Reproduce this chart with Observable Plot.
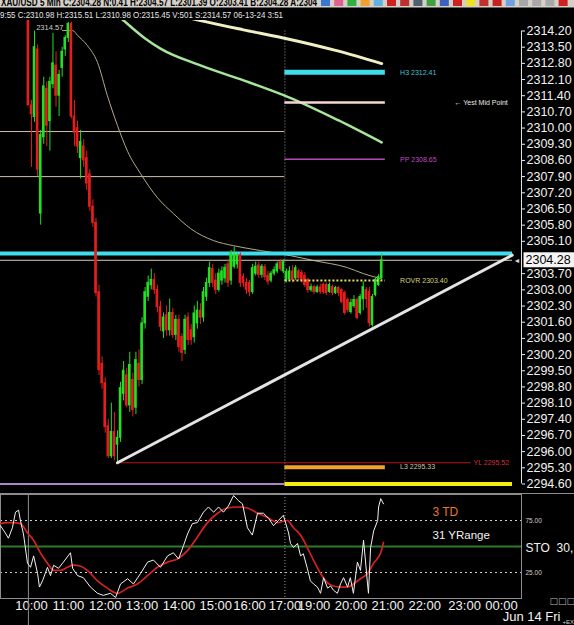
<!DOCTYPE html>
<html>
<head>
<meta charset="utf-8">
<script src="https://cdn.jsdelivr.net/npm/d3@7"></script>
<script src="https://cdn.jsdelivr.net/npm/@observablehq/plot@0.6"></script>
<style>
  html,body{margin:0;padding:0;background:#000;}
  #root{position:relative;width:574px;height:625px;background:#000;overflow:hidden;}
  #root svg{position:absolute;left:0;}
</style>
</head>
<body>
<div id="root"></div>
<script>
// ================= DATA =================
const symbolLine = "XAU/USD 5 Min C:2304.28 N:0.41 H:2304.57 L:2301.39 O:2303.41 B:2304.28 A:2304";
const cursorLine = "9:55 C:2310.98 H:2315.51 L:2310.98 O:2315.45 V:501 S:2314.57 06-13-24 3:51";

// 5-minute candles, bar 0 = 09:55
const opens = [2315.45,2310.98,2310.48,2313.40,2306.30,2309.60,2311.70,2310.30,2311.90,2312.70,
2311.40,2312.60,2313.40,2313.90,2314.50,2310.50,2310.00,2308.70,2309.20,2308.70,
2308.00,2306.60,2305.90,2302.90,2299.80,2298.96,2297.10,2295.80,2296.85,2296.30,
2296.60,2298.50,2299.30,2298.00,2299.10,2297.90,2299.80,2299.10,2301.55,2302.70,
2303.20,2303.43,2303.00,2302.25,2301.20,2301.90,2301.25,2302.00,2301.05,2301.70,
2300.96,2300.40,2301.80,2301.25,2300.95,2301.55,2302.10,2301.80,2302.70,2303.30,
2303.90,2303.40,2303.00,2303.40,2303.50,2304.10,2303.40,2304.00,2304.10,2304.50,
2303.55,2303.30,2303.30,2302.90,2303.70,2304.05,2303.65,2303.98,2303.60,2303.40,
2303.70,2303.80,2304.20,2303.80,
2303.41,2303.45,2303.80,2303.50,2303.80,2303.73,2303.60,2303.43,2302.99,2303.12,
2302.91,2303.10,2303.21,2303.21,2302.91,2303.12,2302.86,2303.08,2302.99,2302.86,
2302.56,2302.04,2302.30,2302.56,2302.00,2302.60,2302.99,2302.90,2301.48,2302.78,
2303.21,2303.51];
const highs = [2315.51,2311.20,2314.20,2313.60,2309.90,2312.20,2312.00,2312.20,2314.10,2313.30,
2312.50,2313.50,2314.00,2314.57,2314.57,2311.20,2310.30,2309.90,2309.50,2309.00,
2308.20,2306.90,2306.10,2303.20,2300.10,2299.20,2297.40,2298.10,2297.70,2296.90,
2299.00,2299.90,2299.60,2300.30,2299.40,2300.30,2300.40,2301.80,2303.10,2303.60,
2303.90,2303.70,2303.20,2302.50,2302.00,2302.30,2302.60,2302.20,2301.90,2301.90,
2301.10,2301.90,2302.00,2301.50,2302.30,2302.50,2302.40,2303.10,2303.50,2304.20,
2304.10,2303.70,2303.90,2304.00,2304.10,2304.30,2304.70,2304.85,2304.60,2304.60,
2303.70,2303.50,2303.40,2304.10,2304.20,2304.20,2304.10,2304.10,2303.80,2303.80,
2304.00,2304.20,2304.30,2304.30,
2303.90,2304.00,2304.05,2304.05,2303.90,2303.85,2303.75,2303.50,2303.25,2303.20,
2303.20,2303.25,2303.30,2303.30,2303.30,2303.20,2303.15,2303.15,2303.05,2302.95,
2302.65,2302.60,2302.75,2302.65,2302.80,2303.35,2303.10,2303.10,2302.80,2303.50,
2303.65,2304.57];
const lows = [2310.98,2308.30,2310.25,2307.90,2305.80,2309.30,2309.20,2309.00,2311.70,2310.90,
2310.50,2312.20,2313.10,2313.70,2310.40,2309.20,2308.90,2307.80,2308.30,2307.30,
2306.40,2305.70,2302.70,2299.30,2298.70,2296.80,2295.70,2295.70,2295.60,2295.52,
2296.40,2298.20,2297.90,2297.70,2297.50,2297.60,2298.80,2298.90,2301.30,2302.50,
2303.00,2302.80,2302.00,2301.20,2300.90,2301.00,2301.00,2300.90,2300.80,2300.30,
2299.90,2300.20,2300.60,2300.60,2300.70,2301.30,2301.50,2301.60,2302.50,2303.10,
2303.10,2302.80,2302.90,2303.20,2303.30,2303.10,2303.20,2303.90,2303.90,2303.10,
2303.10,2302.80,2302.70,2302.80,2303.60,2303.50,2303.50,2303.40,2303.20,2303.30,
2303.60,2303.70,2303.80,2303.70,
2303.30,2303.35,2303.30,2303.40,2303.40,2303.30,2303.10,2302.85,2302.90,2302.80,
2302.85,2302.80,2302.80,2302.75,2302.85,2302.75,2302.80,2302.70,2302.40,2301.90,
2302.00,2301.95,2302.20,2301.70,2301.90,2302.10,2302.20,2301.39,2301.40,2302.70,
2303.15,2303.40];
const closes = [2310.98,2310.60,2313.50,2308.20,2309.70,2311.80,2310.10,2312.00,2312.80,2311.40,
2312.30,2313.30,2313.90,2314.50,2310.50,2309.80,2309.20,2309.40,2308.60,2307.60,
2306.60,2305.90,2302.86,2299.53,2298.96,2297.06,2295.80,2296.85,2295.80,2296.60,
2298.75,2299.50,2298.00,2299.75,2297.80,2299.96,2299.10,2301.55,2302.90,2303.30,
2303.43,2303.00,2302.25,2301.40,2301.80,2301.25,2302.00,2301.05,2301.70,2300.53,
2300.27,2301.70,2300.83,2300.83,2301.98,2302.10,2301.80,2302.90,2303.30,2303.94,
2303.30,2303.00,2303.70,2303.80,2303.95,2303.30,2304.60,2304.50,2304.50,2303.30,
2303.30,2303.00,2302.90,2303.94,2304.00,2303.65,2304.00,2303.55,2303.35,2303.70,
2303.85,2304.10,2303.90,2304.20,
2303.77,2303.80,2303.43,2303.94,2303.51,2303.43,2303.21,2302.99,2303.12,2302.91,
2303.10,2302.91,2302.91,2302.86,2303.21,2302.86,2303.08,2302.86,2302.47,2302.00,
2302.13,2302.43,2302.56,2301.78,2302.69,2303.12,2302.60,2301.56,2302.69,2303.43,
2303.56,2304.28];

// right price axis tick labels
const yTicks = [2314.20,2313.50,2312.80,2312.10,2311.40,2310.70,2310.00,2309.30,2308.60,2307.90,
2307.20,2306.50,2305.80,2305.10,2303.70,2303.00,2302.30,2301.60,2300.90,2300.20,
2299.50,2298.80,2298.10,2297.40,2296.70,2296.00,2295.30,2294.60];
const lastPrice = 2304.28;

// time axis (bar positions of hour labels)
const xTickBars = [1,13,25,37,49,61,72,83.5,93,105,117,129,142,154];
const xTickLabels = ["10:00","11:00","12:00","13:00","14:00","15:00","16:00","17:00","19:00","20:00","21:00","22:00","23:00","00:00"];
const dateLabel = "Jun 14 Fri";

// levels
const sessionHigh = 2304.57;
const H3 = 2312.41, yestMid = 2311.11, PP = 2308.65, ROVR = 2303.40, L3 = 2295.33, YL = 2295.52;
const prevDayLevels = [2309.85, 2307.90];
const floorLevel = 2294.60;
const zigzagBar = 13, zigzagHigh = 2314.57;

// moving averages (bar, value)
const creamBars = [50,56,70,83,100,115];
const creamVals = [2314.84,2314.65,2314.25,2313.90,2313.36,2312.79];
const greenBars = [29,31,38,43,56,72,85,101,115];
const greenVals = [2314.87,2314.65,2313.88,2313.44,2312.71,2311.97,2311.32,2310.33,2309.38];
const tanBars = [11.1,14.4,16.0,19.2,22.5,25.7,29.0,32.3,36.5,42.0,47.2,52.8,60.3,66.8,75.6,85.3,92.8,103.9,109.1,114.6];
const tanVals = [2314.22,2314.22,2314.01,2313.57,2312.84,2311.41,2310.11,2308.99,2308.03,2306.99,2306.30,2305.65,2305.13,2304.91,2304.70,2304.48,2304.27,2303.96,2303.70,2303.49];

// trendline (bar, price)
const trendBars = [29, 157.5];
const trendVals = [2295.52, 2304.50];

// stochastic %K and %D (bar, value)
const kBars = [-9.1,-7.5,-6.5,-5.2,-4.2,-3.2,-2.6,-1.6,-0.3,0.7,1.7,3.0,3.6,4.6,6.2,7.2,8.2,9.8,11.4,13.7,
14.4,16.0,17.9,20.2,22.5,24.4,26.7,28.4,30.0,32.3,34.2,36.5,38.8,40.7,43.0,45.3,47.2,48.9,50.5,51.8,
53.4,55.0,57.0,58.6,60.3,61.9,63.5,65.1,66.8,68.4,69.7,71.3,72.9,74.6,76.5,78.2,79.8,81.4,83.0,84.7,
85.3,86.3,87.6,88.6,89.5,90.8,91.8,92.8,94.1,95.1,96.1,97.4,98.4,99.3,100.6,101.6,102.6,103.9,104.8,105.8,
107.1,108.1,109.1,109.7,110.4,110.7,111.4,112.4,113.7,114.0,114.7,115.6];
const kVals = [70,63,58,68,83,85,75,62,34,30,41,24,11,17,30,22,32,29,35,44,
29,22,20,11,5,3,5,1,14,19,14,24,35,37,30,41,44,38,51,62,
72,73,83,88,83,88,83,89,99,94,91,68,61,82,82,77,70,75,80,63,
53,49,53,41,43,29,17,14,11,5,20,10,12,8,5,14,20,11,20,5,
35,27,56,37,14,5,49,65,75,88,96,91];
const dBars = [-9.1,-6.8,-4.9,-2.6,-0.3,1.7,3.9,6.2,8.2,10.4,12.7,14.7,17.0,19.2,22.5,25.7,29.0,32.3,35.5,38.8,
42.0,45.3,48.5,51.8,55.0,58.3,61.6,64.8,68.1,71.3,74.6,77.8,81.1,84.3,86.3,88.6,90.8,92.8,95.1,97.4,
99.3,101.6,103.9,105.8,108.1,110.4,112.4,114.7,115.6];
const dVals = [72,73,73,72,63,56,44,34,27,27,30,32,31,27,17,10,5,10,14,22,
30,35,38,46,59,73,82,87,88,87,82,78,73,75,68,61,49,37,24,15,
12,11,11,14,19,24,34,44,54];
const stoLevels = [75, 25];
const stoLabel = "STO  30,";
const tdLabel = "3 TD", rangeLabel = "31 YRange";

// ================= LAYOUT CONSTANTS (bar units) =================
const xDomain = [-9.08, 160.52];
const yDomain = [2294.60, 2314.20];
const sessionBreak = 83.5;   // between the two sessions
const levelEnd = 116.2;      // end of today's pivot segments
const labelCol = 121;        // pivot label column
const midLabelCol = 138.7;
const ylLabelCol = 144.9;
const extEnd = 157.6;
const cursorBar = 0;

const FONT = "Liberation Sans, Arial, sans-serif";
const root = document.getElementById("root");

// ================= HEADER =================
const header = d3.select(root).append("svg").attr("width", 574).attr("height", 20).style("top", "0px");
header.append("rect").attr("width", 574).attr("height", 7.5).attr("fill", "#d4d0c8");
header.append("text").attr("x", 1).attr("y", 5.5).attr("font-family", FONT).attr("font-weight", "bold")
  .attr("font-size", 11).attr("fill", "#000").attr("textLength", 316).attr("lengthAdjust", "spacingAndGlyphs").text(symbolLine);
const iconColors = ["#3a78d0","#e06090","#30b040","#f0a030","#60b0e0","#d02020","#c03030","#506070","#40a040","#4060c0","#d02020","#f0e020","#c03030","#c82020","#70a0e0","#a8a8a8","#a8a8a8","#a8a8a8","#d02020"];
header.selectAll("rect.ic").data(iconColors).join("rect").attr("class", "ic")
  .attr("x", (d, k) => 321 + k * 13.2).attr("y", 0).attr("width", 9).attr("height", 6).attr("fill", d => d);
header.append("text").attr("x", 0).attr("y", 17.5).attr("font-family", FONT).attr("font-size", 9.5)
  .attr("fill", "#e6e6e6").attr("textLength", 283).attr("lengthAdjust", "spacingAndGlyphs").text(cursorLine);

// ================= MAIN PRICE PANEL =================
const bars = opens.map((o, i) => ({i, o, h: highs[i], l: lows[i], c: closes[i]}));
const pts = (xs, ys) => xs.map((x, k) => ({x, y: ys[k]}));
const candleColor = d => d.c >= d.o ? "#22e022" : "#e81c1c";

const main = Plot.plot({
  width: 574, height: 470,
  marginLeft: 0, marginRight: 53, marginTop: 10.5, marginBottom: 6.5,
  x: {domain: xDomain, axis: null},
  y: {domain: yDomain, axis: "right", ticks: yTicks, tickFormat: d => d.toFixed(2), tickSize: 3, tickPadding: 2, label: null},
  style: {background: "#000", color: "#f2f2f2", fontFamily: FONT, fontSize: "12.5px", overflow: "hidden"},
  marks: [
    Plot.ruleY(prevDayLevels, {x1: xDomain[0], x2: sessionBreak, stroke: "#cdc2a6", strokeWidth: 1}),
    Plot.ruleY([floorLevel], {x1: xDomain[0], x2: sessionBreak, stroke: "#a884c8", strokeWidth: 2}),
    Plot.ruleX([sessionBreak], {stroke: "#a0a0a0", strokeDasharray: "1,2"}),
    Plot.line(pts(creamBars, creamVals), {x: "x", y: "y", stroke: "#f2efc4", strokeWidth: 3, curve: "monotone-x"}),
    Plot.line(pts(greenBars, greenVals), {x: "x", y: "y", stroke: "#a6e69a", strokeWidth: 2.5, curve: "monotone-x"}),
    Plot.line(pts(tanBars, tanVals), {x: "x", y: "y", stroke: "#b4aa8c", strokeWidth: 1, curve: "monotone-x"}),
    Plot.ruleY([sessionHigh], {x1: xDomain[0], x2: extEnd, stroke: "#3fdcec", strokeWidth: 4}),
    Plot.ruleY([lastPrice], {x1: xDomain[0], x2: extEnd, stroke: "#d6ccb4", strokeWidth: 1}),
    Plot.ruleY([H3], {x1: sessionBreak, x2: levelEnd, stroke: "#3fdcec", strokeWidth: 5}),
    Plot.ruleY([yestMid], {x1: sessionBreak, x2: levelEnd, stroke: "#f6d6d2", strokeWidth: 2.5}),
    Plot.ruleY([PP], {x1: sessionBreak, x2: levelEnd, stroke: "#b848b8", strokeWidth: 1.5}),
    Plot.ruleY([L3], {x1: sessionBreak, x2: levelEnd, stroke: "#f0a22a", strokeWidth: 4}),
    Plot.ruleY([floorLevel], {x1: sessionBreak, x2: extEnd, stroke: "#f4ec10", strokeWidth: 4}),
    Plot.ruleY([YL], {x1: 29, x2: ylLabelCol - 0.8, stroke: "#b81818", strokeWidth: 1}),
    Plot.ruleX(bars, {x: "i", y1: "l", y2: "h", stroke: candleColor, strokeWidth: 1}),
    Plot.rect(bars, {x1: d => d.i - 0.42, x2: d => d.i + 0.42, y1: "o", y2: "c", fill: candleColor, insetTop: -0.5, insetBottom: -0.5}),
    Plot.ruleY([ROVR], {x1: sessionBreak, x2: levelEnd, stroke: "#e6dc6a", strokeWidth: 2, strokeDasharray: "2,2"}),
    Plot.line(pts(trendBars, trendVals), {x: "x", y: "y", stroke: "#e4e4e4", strokeWidth: 3}),
    Plot.text([H3], {x: labelCol, y: d => d, text: d => `H3 ${d.toFixed(2)}`, textAnchor: "start", fill: "#44c6d0", fontSize: 7}),
    Plot.text([yestMid], {x: midLabelCol, y: d => d, text: () => "← Yest Mid Point", textAnchor: "start", fill: "#e8e8e8", fontSize: 7}),
    Plot.text([PP], {x: labelCol, y: d => d, text: d => `PP ${d.toFixed(2)}`, textAnchor: "start", fill: "#c048c0", fontSize: 7}),
    Plot.text([ROVR], {x: labelCol, y: d => d, text: d => `ROVR ${d.toFixed(2)}`, textAnchor: "start", fill: "#d8d07a", fontSize: 7}),
    Plot.text([L3], {x: labelCol, y: d => d, text: d => `L3 ${d.toFixed(2)}`, textAnchor: "start", fill: "#c8c4a4", fontSize: 7}),
    Plot.text([YL], {x: ylLabelCol, y: d => d, text: d => `YL ${d.toFixed(2)}`, textAnchor: "start", fill: "#d03030", fontSize: 7}),
    Plot.text([{x: zigzagBar, y: zigzagHigh}], {x: "x", y: "y", text: d => d.y.toFixed(2), textAnchor: "end", dx: -5, dy: 5, fill: "#d0d0d0", fontSize: 7.5}),
    Plot.text([lastPrice], {x: xDomain[1], y: d => d, text: () => "◄", textAnchor: "end", dx: -1, fill: "#dcdcdc", fontSize: 7}),
    Plot.ruleX([xDomain[1]], {stroke: "#e0e0e0", strokeWidth: 1})
  ]
});
main.style.top = "20px";
root.appendChild(main);
{
  const yy = main.scale("y").apply(lastPrice);
  const g = d3.select(main).append("g").attr("text-anchor", "start");
  g.append("rect").attr("x", 523.5).attr("y", yy - 7.5).attr("width", 50.5).attr("height", 15).attr("fill", "#f4f4f4");
  g.append("text").attr("x", 525.5).attr("y", yy).attr("dy", "0.36em").attr("text-anchor", "start")
    .attr("font-family", FONT).attr("font-size", 12.5).attr("fill", "#000").text(lastPrice.toFixed(2));
}

// ================= STOCHASTIC PANEL =================
const stoch = Plot.plot({
  width: 574, height: 135,
  marginLeft: 0, marginRight: 53, marginTop: 4, marginBottom: 27,
  x: {domain: xDomain, ticks: xTickBars, tickFormat: (d, i) => xTickLabels[i], tickSize: 0, tickPadding: 2, label: null},
  y: {domain: [0, 100], axis: null},
  style: {background: "transparent", color: "#f2f2f2", fontFamily: FONT, fontSize: "13px", overflow: "hidden"},
  marks: [
    Plot.ruleY(stoLevels, {stroke: "#cfcfcf", strokeDasharray: "2,3"}),
    Plot.ruleY([50], {stroke: "#2c7a2c", strokeWidth: 2}),
    Plot.frame({stroke: "#8c8c8c"}),
    Plot.ruleX([cursorBar], {y1: 100, y2: -27, stroke: "#8c8c8c"}),
    Plot.ruleX([sessionBreak], {stroke: "#a0a0a0", strokeDasharray: "1,2"}),
    Plot.line(pts(dBars, dVals), {x: "x", y: "y", stroke: "#d42222", strokeWidth: 1.7, curve: "monotone-x"}),
    Plot.line(pts(kBars, kVals), {x: "x", y: "y", stroke: "#f2f2f2", strokeWidth: 1}),
    Plot.text(stoLevels, {y: d => d, frameAnchor: "right", dx: 4, textAnchor: "start", text: d => d.toFixed(2), fill: "#d0d0d0", fontSize: 6.5}),
    Plot.text([stoLabel], {frameAnchor: "right", dx: 4, dy: 2, textAnchor: "start", fill: "#f2f2f2", fontSize: 12}),
    Plot.text([tdLabel], {frameAnchor: "top-left", dx: 432, dy: 13, textAnchor: "start", fill: "#e8782a", fontSize: 12}),
    Plot.text([rangeLabel], {frameAnchor: "top-left", dx: 432, dy: 36, textAnchor: "start", fill: "#f2f2f2", fontSize: 11.5}),
    Plot.text([dateLabel], {frameAnchor: "bottom-right", dx: 39, dy: 22, textAnchor: "end", fill: "#f2f2f2", fontSize: 13}),
    Plot.text(["+EX"], {frameAnchor: "bottom-right", dx: 41, dy: 25, textAnchor: "start", fill: "#d0d0d0", fontSize: 6}),
    Plot.text(["□□□"], {frameAnchor: "bottom-right", dx: 28, dy: 5.5, textAnchor: "start", fill: "#b8b8b8", fontSize: 9, fontFamily: "DejaVu Sans"})
  ]
});
stoch.style.top = "490px";
root.appendChild(stoch);
d3.select(stoch).append("line").attr("x1", 0).attr("x2", 574).attr("y1", 3.5).attr("y2", 3.5).attr("stroke", "#8c8c8c");
</script>
</body>
</html>
